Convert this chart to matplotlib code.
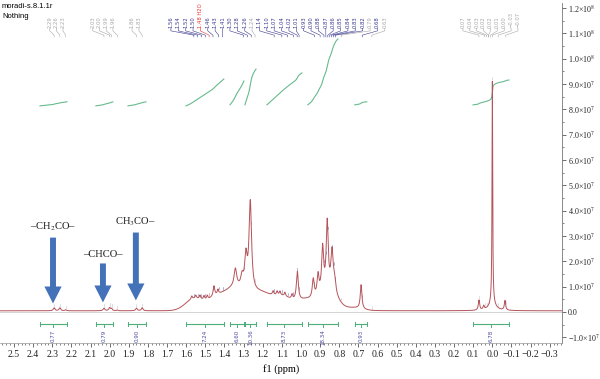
import numpy as np
import matplotlib
matplotlib.use('Agg')
import matplotlib.pyplot as plt
from matplotlib.patches import FancyArrow
from matplotlib.ticker import MultipleLocator, FuncFormatter

plt.rcParams['font.family'] = ['Liberation Serif', 'DejaVu Serif']
plt.rcParams['mathtext.fontset'] = 'stix'

# sharp lines: position (ppm), height (x1e7), half width (ppm)
peak_ppm = [2.29, 2.26, 2.23, 2.03, 2.00, 1.99, 1.96, 1.86, 1.83,
            1.571, 1.550, 1.528, 1.507, 1.490, 1.455, 1.434,
            1.343, 1.308, 1.288, 1.265,
            1.146, 1.125, 1.110, 1.084, 1.047, 1.019,
            0.936, 0.911, 0.887, 0.863, 0.838, 0.825, 0.686,
            0.07, 0.045, 0.0, 0.0, -0.066]
peak_height = [0.12, 0.12, 0.04, 0.10, 0.12, 0.08, 0.03, 0.10, 0.12,
               0.12, 0.12, 0.15, 0.15, 0.15, 0.40, 0.18,
               0.70, 0.45, 1.30, 3.55,
               0.15, 0.15, 0.15, 0.15, 0.18, 1.15,
               0.75, 0.80, 1.70, 2.60, 1.50, 0.50, 0.95,
               0.40, 0.15, 8.75, 0.30, 0.38]
peak_hwhm = [0.005, 0.005, 0.004, 0.005, 0.005, 0.004, 0.004, 0.005, 0.005,
             0.004, 0.004, 0.004, 0.004, 0.004, 0.005, 0.004,
             0.008, 0.008, 0.008, 0.008,
             0.004, 0.004, 0.004, 0.004, 0.004, 0.006,
             0.006, 0.006, 0.006, 0.006, 0.007, 0.008, 0.005,
             0.004, 0.004, 0.002, 0.02, 0.004]

# broad hump under the aliphatic lines: centre, height, width
hump_ppm = [1.56, 1.44, 1.34, 1.22, 1.10, 0.97, 0.86, 0.72]
hump_height = [0.45, 0.50, 0.80, 0.60, 0.55, 0.35, 0.80, 0.10]
hump_sigma = [0.045, 0.05, 0.05, 0.05, 0.06, 0.04, 0.045, 0.04]
base_level = 0.05

# integration regions
int_start = [2.364, 2.072, 1.904, 1.601, 1.371, 1.293, 1.178, 0.964, 0.719, 0.101]
int_end = [2.223, 1.983, 1.810, 1.403, 1.298, 1.235, 0.995, 0.807, 0.656, -0.087]
int_value = ['0.77', '0.79', '0.90', '7.24', '6.60', '10.36', '8.73', '18.34', '0.93', '6.78']
int_curve_lo = [8.14, 8.14, 8.14, 8.14, 8.18, 8.18, 8.18, 8.18, 8.18, 8.18]
int_curve_hi = [8.30, 8.30, 8.30, 9.20, 9.12, 9.59, 9.44, 10.78, 8.30, 9.16]

# peak labels, in groups, with the span they are spread over
label_groups = [
    (['2.29', '2.26', '2.23'], (2.313, 2.244)),
    (['2.03', '2.00', '1.99', '1.96'], (2.088, 1.983)),
    (['1.86', '1.83'], (1.883, 1.847)),
    (['1.56', '1.54', '1.52', '1.50', '1.48', '1.46', '1.43', '1.41', '1.30', '1.28',
      '1.26', '1.24', '1.14', '1.10', '1.07', '1.04', '1.02', '1.01', '0.93', '0.90',
      '0.88', '0.87', '0.86', '0.85', '0.84', '0.83', '0.82', '0.79', '0.68', '0.63'],
     (1.680, 0.562)),
    (['0.07', '0.04', '0.03', '0.02', '0.02', '0.01', '0.00', '-0.03', '-0.07'],
     (0.154, -0.134)),
]
gray_labels = ['2.29', '2.26', '2.23', '2.03', '2.00', '1.99', '1.96', '1.86', '1.83',
               '1.24', '0.79', '0.63', '0.07', '0.04', '0.03', '0.02', '0.01', '0.00',
               '-0.03', '-0.07']

# annotations: text, ppm, arrow top, arrow tip, text height (x1e7)
ann_text = ['\u2013CH$_2$CO\u2013', '\u2013CHCO\u2013', 'CH$_3$CO\u2013']
ann_ppm = [2.296, 2.035, 1.863]
ann_top = [2.94, 1.92, 3.14]
ann_tip = [0.34, 0.38, 0.46]
ann_label_y = [3.36, 2.27, 3.55]

ytick_vals = np.arange(-1, 13) * 1e7

# spectrum
x = np.linspace(2.58, -0.37, 40000)
y = np.full_like(x, base_level)
for p, h, w in zip(peak_ppm, peak_height, peak_hwhm):
    y += h / (1 + ((x - p) / w) ** 2)
for p, h, s in zip(hump_ppm, hump_height, hump_sigma):
    y += h * np.exp(-0.5 * ((x - p) / s) ** 2)

fig = plt.figure(figsize=(6, 3.79), dpi=100)
ax = fig.add_axes([0, 36 / 379, 562 / 600, 340 / 379])

ax.axhline(0, color='#d4d4d4', lw=0.7, zorder=1)
ax.plot(x, y * 1e7, color='#b5535a', lw=0.7, zorder=3)

green = '#4cae7a'
for s, e, v, lo, hi in zip(int_start, int_end, int_value, int_curve_lo, int_curve_hi):
    m = (x <= s) & (x >= e)
    c = np.cumsum(y[m])
    ax.plot(x[m], (lo + (hi - lo) * c / c[-1]) * 1e7, color=green, lw=0.8, alpha=0.85)
    mid = (s + e) / 2
    yb = -0.48e7
    ax.plot([s, e], [yb, yb], color=green, lw=0.8)
    ax.plot([s, s], [yb - 0.07e7, yb + 0.07e7], color=green, lw=0.7)
    ax.plot([e, e], [yb - 0.07e7, yb + 0.07e7], color=green, lw=0.7)
    ax.plot([mid, mid], [yb, yb - 0.12e7], color=green, lw=0.7)
    ax.text(mid, -0.68e7, v, rotation=90, ha='center', va='top', fontsize=4,
            color='#4a4aa0', family='DejaVu Sans')

# peak labels with connectors
for texts, (a, b) in label_groups:
    pos = np.linspace(a, b, len(texts))
    for t, px in zip(texts, pos):
        col = '#a8a8a8' if t in gray_labels else '#3b3b8f'
        txt = t
        if t == '1.48':
            col = '#ee3333'
            txt = '1.48 H2O'
        pk = float(t)
        ax.text(px, 11.22e7, txt.replace('-', '\u2212'), rotation=90, ha='center',
                va='bottom', fontsize=3.8, color=col, family='DejaVu Sans')
        ax.plot([px, px, pk, pk], [11.2e7, 11.1e7, 10.93e7, 10.86e7],
                color=col, lw=0.4)
        top = np.interp(pk, x[::-1], y[::-1]) * 1e7
        ax.plot([pk, pk], [top + 0.06e7, top + 0.16e7], color=col, lw=0.4,
                alpha=0.7)

# arrows
for t, p, y0, y1, ly in zip(ann_text, ann_ppm, ann_top, ann_tip, ann_label_y):
    ax.add_patch(FancyArrow(p, y0 * 1e7, 0, (y1 - y0) * 1e7, width=0.031,
                            head_width=0.09, head_length=0.67e7,
                            length_includes_head=True, color='#4472b8', lw=0,
                            zorder=5))
    ax.text(p, ly * 1e7, t, ha='center', va='center', fontsize=7.6, color='#222222')

ax.set_xlim(2.573, -0.364)
ax.set_ylim(-1.22e7, 12.2e7)

ax.xaxis.set_major_locator(MultipleLocator(0.1))
ax.xaxis.set_minor_locator(MultipleLocator(0.02))
ax.xaxis.set_major_formatter(FuncFormatter(
    lambda v, p: ('%.1f' % (0.0 if abs(v) < 1e-9 else v)).replace('-', '\u2212')))


def yfmt(v, pos):
    if abs(v) < 1:
        return '0.0'
    e = int(np.floor(np.log10(abs(v)) + 1e-9))
    m = abs(v) / 10 ** e
    sign = '\u2212' if v < 0 else ''
    return sign + '%.1f\u00d710$^{%d}$' % (m, e)


ax.yaxis.tick_right()
ax.set_yticks(ytick_vals)
ax.yaxis.set_minor_locator(MultipleLocator(0.5e7))
ax.yaxis.set_major_formatter(FuncFormatter(yfmt))
ax.tick_params(axis='y', which='major', labelsize=5.8, length=3, width=0.6,
               colors='#555555', labelcolor='#222222', pad=1.5)
ax.tick_params(axis='y', which='minor', length=1.5, width=0.5, colors='#555555')
ax.tick_params(axis='x', which='major', labelsize=7, length=3, width=0.6,
               colors='#555555', labelcolor='#222222', pad=2)
ax.tick_params(axis='x', which='minor', length=1.5, width=0.5, colors='#555555')

for side in ['left', 'top']:
    ax.spines[side].set_visible(False)
ax.spines['right'].set_color('#777777')
ax.spines['right'].set_linewidth(0.6)
ax.spines['bottom'].set_color('#999999')
ax.spines['bottom'].set_linewidth(0.5)

ax.set_xlabel('f1 (ppm)', fontsize=7.5, labelpad=4)

fig.text(2 / 600, 1 - 7 / 379, 'moradi-s.8.1.1r', fontsize=5.5, va='center',
         family='Liberation Sans')
fig.text(2 / 600, 1 - 16 / 379, 'Nothing', fontsize=5.5, va='center',
         family='Liberation Sans')

fig.savefig('out.png', dpi=100)
